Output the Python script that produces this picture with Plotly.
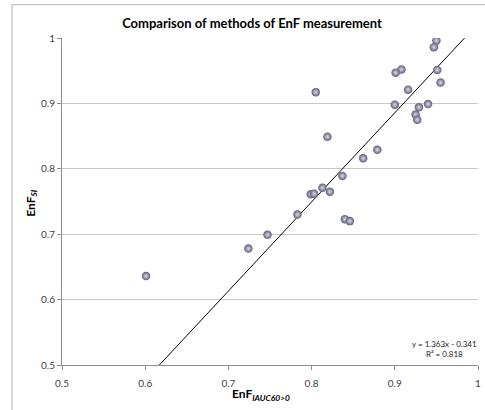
import plotly.graph_objects as go

# Data
enf_iauc = [0.950, 0.947, 0.908, 0.901, 0.951, 0.955, 0.916, 0.805, 0.900, 0.940,
            0.929, 0.925, 0.927, 0.819, 0.879, 0.862, 0.837, 0.813, 0.799, 0.803,
            0.822, 0.840, 0.846, 0.783, 0.747, 0.724, 0.601]
enf_si = [0.996, 0.986, 0.952, 0.947, 0.951, 0.932, 0.921, 0.917, 0.898, 0.899,
          0.894, 0.883, 0.875, 0.849, 0.829, 0.816, 0.789, 0.771, 0.761, 0.762,
          0.765, 0.723, 0.720, 0.730, 0.699, 0.678, 0.636]
slope = 1.363
intercept = -0.341
r_squared = 0.818
x_ticks = [0.5, 0.6, 0.7, 0.8, 0.9, 1.0]
x_tick_labels = ["0.5", "0.6", "0.7", "0.8", "0.9", "1"]
y_ticks = [0.5, 0.6, 0.7, 0.8, 0.9, 1.0]
y_tick_labels = ["0.5", "0.6", "0.7", "0.8", "0.9", "1"]

y_min, y_max = 0.5, 1.0
trend_x = [(y_min - intercept) / slope, (y_max - intercept) / slope]
trend_y = [slope * v + intercept for v in trend_x]

FONT = "Lato"

fig = go.Figure()
fig.add_trace(go.Scatter(
    x=trend_x, y=trend_y, mode="lines",
    line=dict(color="black", width=1), hoverinfo="skip", showlegend=False,
))
fig.add_trace(go.Scatter(
    x=enf_iauc, y=enf_si, mode="markers",
    marker=dict(size=8.5, color="#5e5e78",
                gradient=dict(type="radial", color="#dcdce8"),
                line=dict(width=0)),
    showlegend=False,
))

fig.update_layout(
    width=485, height=410, autosize=False,
    margin=dict(l=62, r=4, t=38, b=45),
    paper_bgcolor="white", plot_bgcolor="white",
    font=dict(family=FONT, size=10, color="#404040"),
    title=dict(text="<b>Comparison of methods of EnF measurement</b>",
               font=dict(family=FONT, size=13, color="black"),
               x=252 / 485, xanchor="center", y=1 - 23 / 410, yanchor="middle"),
    xaxis=dict(range=[0.5, 1.0], tickvals=x_ticks, ticktext=x_tick_labels,
               showgrid=False, zeroline=False, showline=True,
               linecolor="#8c8c8c", linewidth=1, ticks="outside", ticklen=4,
               tickcolor="#8c8c8c", ticklabelstandoff=5,
               tickfont=dict(size=10, color="#404040")),
    yaxis=dict(range=[0.5, 1.0], tickvals=y_ticks, ticktext=y_tick_labels,
               showgrid=True, gridcolor="#c8c8c8", gridwidth=1,
               zeroline=False, showline=True,
               linecolor="#8c8c8c", linewidth=1, ticks="outside", ticklen=4,
               tickcolor="#8c8c8c", tickfont=dict(size=10, color="#404040")),
    shapes=[dict(type="rect", xref="paper", yref="paper",
                 x0=-0.1202, x1=1.2, y0=-0.3, y1=1.1018,
                 line=dict(color="#b4b4b4", width=1), layer="below")],
    annotations=[
        dict(text="<b>EnF<sub><i>IAUC60&gt;0</i></sub></b>", xref="paper", yref="paper",
             x=(262 - 62) / 418.4, y=-(395 - 365.5) / 327.2,
             xanchor="center", yanchor="middle", showarrow=False,
             font=dict(family=FONT, size=12, color="black")),
        dict(text="<b>EnF<sub><i>SI</i></sub></b>", xref="paper", yref="paper",
             x=(31 - 62) / 418.4, y=(365.5 - 203) / 327.2, textangle=-90,
             xanchor="center", yanchor="middle", showarrow=False,
             font=dict(family=FONT, size=12, color="black")),
        dict(text=f"y = {slope}x - {abs(intercept)}<br>R² = {r_squared}",
             xref="paper", yref="paper",
             x=(447 - 62) / 418.4, y=(365.5 - 349.5) / 327.2,
             xanchor="center", yanchor="middle", showarrow=False, align="center",
             font=dict(family=FONT, size=8, color="#202020")),
    ],
)

fig.write_html("out.html", config={"displayModeBar": False},
               post_script="document.body.style.margin='0';document.body.style.overflow='hidden';")
